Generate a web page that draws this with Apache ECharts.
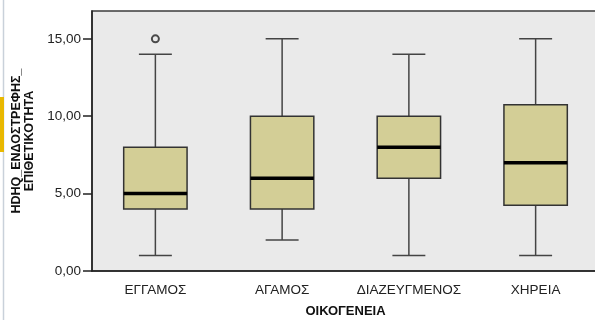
<!DOCTYPE html>
<html>
<head>
<meta charset="utf-8">
<script src="https://cdn.jsdelivr.net/npm/echarts@6/dist/echarts.min.js"></script>
<style>
  html, body { margin: 0; padding: 0; background: #ffffff; }
  #chart { width: 595px; height: 320px; }
</style>
</head>
<body>
<div id="chart"></div>
<script>
// Marital status groups and their five-number summaries
const categories = ['ΕΓΓΑΜΟΣ', 'ΑΓΑΜΟΣ', 'ΔΙΑΖΕΥΓΜΕΝΟΣ', 'ΧΗΡΕΙΑ'];
const mins    = [1, 2, 1, 1];
const q1s     = [4, 4, 6, 4.25];
const medians = [5, 6, 8, 7];
const q3s     = [8, 10, 10, 10.75];
const maxs    = [14, 15, 14, 15];
// Outlying observations: [category index, value]
const outliers = [[0, 15]];
const yTicks = [0, 5, 10, 15];

const boxData = categories.map((c, i) => [i, mins[i], q1s[i], medians[i], q3s[i], maxs[i]]);

const boxFill = '#d3ce96';
const edge = '#333333';

function renderBox(params, api) {
  const i = api.value(0);
  const pMin = api.coord([i, api.value(1)]);
  const pQ1 = api.coord([i, api.value(2)]);
  const pMed = api.coord([i, api.value(3)]);
  const pQ3 = api.coord([i, api.value(4)]);
  const pMax = api.coord([i, api.value(5)]);
  const band = api.size([1, 0])[0];
  const half = band * 0.25;
  const cap = band * 0.13;
  const cx = pMed[0];
  const wStyle = { stroke: '#444444', lineWidth: 1.5 };
  return {
    type: 'group',
    children: [
      { type: 'line', shape: { x1: cx, y1: pQ1[1], x2: cx, y2: pMin[1] }, style: wStyle },
      { type: 'line', shape: { x1: cx, y1: pQ3[1], x2: cx, y2: pMax[1] }, style: wStyle },
      { type: 'line', shape: { x1: cx - cap, y1: pMin[1], x2: cx + cap, y2: pMin[1] }, style: wStyle },
      { type: 'line', shape: { x1: cx - cap, y1: pMax[1], x2: cx + cap, y2: pMax[1] }, style: wStyle },
      { type: 'rect', shape: { x: cx - half, y: pQ3[1], width: half * 2, height: pQ1[1] - pQ3[1] },
        style: { fill: boxFill, stroke: edge, lineWidth: 1.5 } },
      { type: 'line', shape: { x1: cx - half, y1: pMed[1], x2: cx + half, y2: pMed[1] },
        style: { stroke: '#000000', lineWidth: 3.5 } }
    ]
  };
}

const chart = echarts.init(document.getElementById('chart'), null, { renderer: 'canvas' });

chart.setOption({
  animation: false,
  backgroundColor: '#ffffff',
  textStyle: { fontFamily: '"Liberation Sans", Arial, sans-serif' },
  graphic: [
    { type: 'line', shape: { x1: 3.5, y1: 0, x2: 3.5, y2: 320 }, style: { stroke: '#c9d1da', lineWidth: 1.5 } },
    { type: 'rect', shape: { x: 0, y: 97, width: 4, height: 55 }, style: { fill: '#e9b800' } }
  ],
  grid: {
    left: 92, top: 11, width: 507, height: 260,
    outerBoundsMode: 'none',
    containLabel: false,
    show: true, backgroundColor: '#eaeaea', borderColor: '#3c3c3c', borderWidth: 1.5
  },
  xAxis: {
    type: 'category',
    data: categories,
    boundaryGap: true,
    name: 'ΟΙΚΟΓΕΝΕΙΑ',
    nameLocation: 'middle',
    nameGap: 34,
    nameTextStyle: { fontSize: 13, fontWeight: 'bold', color: '#111' },
    axisLine: { lineStyle: { color: '#222', width: 1.5 } },
    axisTick: { alignWithLabel: true, interval: 0, length: 8, lineStyle: { color: '#222', width: 1.5 } },
    axisLabel: { fontSize: 13.5, color: '#222', margin: 12, interval: 0, hideOverlap: false },
    splitLine: { show: false }
  },
  yAxis: {
    type: 'value',
    min: 0,
    max: 16.8,
    interval: 5,
    name: 'HDHQ_ΕΝΔΟΣΤΡΕΦΗΣ_\nΕΠΙΘΕΤΙΚΟΤΗΤΑ',
    nameLocation: 'middle',
    nameRotate: 90,
    nameGap: 52,
    nameTextStyle: { fontSize: 12.5, fontWeight: 'bold', color: '#111', lineHeight: 13, align: 'center' },
    axisLine: { show: true, lineStyle: { color: '#222', width: 1.5 } },
    axisTick: { show: true, length: 9, customValues: yTicks, lineStyle: { color: '#222', width: 1.5 } },
    axisLabel: {
      fontSize: 13.5, color: '#222', margin: 11, customValues: yTicks,
      formatter: v => v.toFixed(2).replace('.', ',')
    },
    splitLine: { show: false }
  },
  series: [
    {
      type: 'custom',
      renderItem: renderBox,
      data: boxData,
      encode: { x: 0, y: [1, 2, 3, 4, 5] },
      z: 3
    },
    {
      type: 'scatter',
      data: outliers,
      symbol: 'circle',
      symbolSize: 7,
      itemStyle: { color: 'transparent', borderColor: '#222', borderWidth: 2 },
      z: 4
    }
  ]
});
</script>
</body>
</html>
